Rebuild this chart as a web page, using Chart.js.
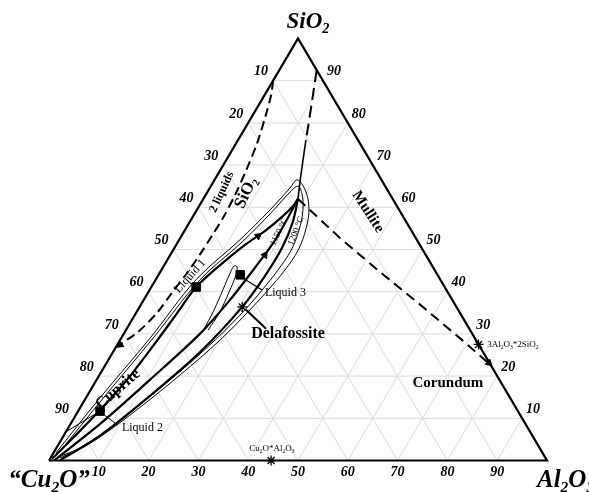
<!DOCTYPE html>
<html>
<head>
<meta charset="utf-8">
<script src="https://cdn.jsdelivr.net/npm/chart.js@4.4.0/dist/chart.umd.min.js"></script>
<style>
  html, body { margin: 0; padding: 0; background: #fff; }
  canvas { display: block; }
</style>
</head>
<body>
<canvas id="ternario" width="589" height="492"></canvas>
<script>
// composições em % massa: [Al2O3, SiO2] (o resto é Cu2O)
const ticks = [10, 20, 30, 40, 50, 60, 70, 80, 90];

// linha tracejada da lacuna de miscibilidade (2 líquidos)
const doisLiquidos = [[0,90],[1.3,86.6],[2.6,81.9],[4.2,75.2],[5.2,68.8],[5.9,62.9],[6.2,57.5],[6.1,53.7],[5.9,48.9],[5.5,44.4],[4.8,39.7],[4.2,35.0],[2.6,30.4],[0,26.9]];
// SiO2 / mulita
const silicaMulitaTrac = [[7.5,92.5],[9.7,86.6],[11.9,80.7],[13.6,76.0]];
const silicaMulita = [[13.6,76.0],[15.4,71.2],[17.2,66.5],[19.0,62.0]];
// mulita / corindon
const mulitaCorindon = [[19.0,62.0],[32.1,52.7],[44.1,44.7],[56.1,36.9],[68.0,29.0],[77.4,22.6]];

// curvas grossas (cuprita / SiO2 / delafossita)
const curva1 = [[0.4,0.4],[2.3,5.8],[4.3,12.0],[6.0,18.6],[7.2,26.2],[8.2,34.2],[9.0,41.1],[11.2,46.3],[13.8,51.1],[16.2,54.4],[18.0,57.9],[18.9,60.5],[19.0,62.0]];
const curva2 = [[1.1,0.1],[5.9,8.6],[10.7,19.1],[15.3,30.0],[17.3,38.0],[18.5,45.6],[19.3,52.3],[19.2,57.9],[19.0,62.0]];
const curva3 = [[2.2,0.1],[7.3,5.8],[12.6,15.3],[17.5,25.7],[20.6,36.4],[21.5,43.7],[21.6,50.4],[20.7,56.5],[19.0,62.0]];

// isotermas (finas)
const iso1200 = [[0.5,1.8],[2.8,14.8],[5.8,29.0],[8.1,42.8],[12.2,52.3],[14.7,59.4],[16.1,64.6],[16.6,66.5],[19.4,64.1],[22.3,59.8],[24.1,55.1],[25.1,49.9],[24.8,45.1],[23.8,40.4],[22.5,35.7],[20.1,28.6],[16.2,20.3],[10.9,10.8],[6.2,4.1],[1.9,0.6]];
const iso1150 = [[1.0,1.5],[3.6,15.3],[6.5,29.5],[8.9,42.8],[12.9,51.8],[15.3,58.9],[16.6,63.6],[17.5,65.0],[19.2,63.2],[21.3,59.4],[22.9,54.6],[23.7,49.9],[23.4,45.1],[22.6,40.4],[21.5,35.7],[19.1,28.6],[14.8,19.1],[9.5,9.6],[4.7,3.0],[1.4,0.8]];
const laco = [[15.6,30.7],[15.3,35.7],[14.7,40.4],[14.2,44.2],[14.1,46.1],[14.8,45.9],[15.5,44.2],[16.2,39.9],[16.7,35.0],[16.5,30.9]];

// pontos
const liquidos = [[9.0,41.1],[4.4,11.7],[16.4,44.0]];        // Liquid 1, 2, 3
const compostos = [[20.6,36.4],[72.5,27.5],[44.6,0]];        // delafossita, mulita, Cu2O*Al2O3
const tieLiq2 = [[0,6.8],[4.4,11.7]];
const guiaLiq2 = [[5.7,10.8],[9.6,8.4]];
const guiaLiq3 = [[17.7,43.0],[22.6,40.4]];
const guiaDelaf = [[28.0,31.2],[21.7,35.7]];
const setas = [[0.6,27.4],[76.8,23.1],[15.4,53.2],[19.0,48.7]];
const setasAngulo = [234, 131, 53, 36];

const tern = ([al, si]) => ({ x: al + si / 2, y: si });

function linha(pts, extra) {
  return Object.assign({
    data: pts.map(tern), showLine: true, pointRadius: 0, borderColor: '#000',
    borderWidth: 1, fill: false, tension: 0, order: 1
  }, extra);
}

const datasets = [];
// triângulo
datasets.push(linha([[0,0],[100,0],[0,100],[0,0]], { borderWidth: 2.2, order: 2 }));
datasets.push(linha(doisLiquidos, { borderWidth: 2, borderDash: [9, 5], tension: 0.3 }));
datasets.push(linha(silicaMulitaTrac, { borderWidth: 2, borderDash: [12, 6] }));
datasets.push(linha(silicaMulita, { borderWidth: 1.6 }));
datasets.push(linha(mulitaCorindon, { borderWidth: 2, borderDash: [10, 6] }));
datasets.push(linha(curva1, { borderWidth: 2.2, tension: 0.3 }));
datasets.push(linha(curva2, { borderWidth: 2.2, tension: 0.3 }));
datasets.push(linha(curva3, { borderWidth: 2.2, tension: 0.3 }));
datasets.push(linha(iso1200, { borderWidth: 1, tension: 0.35 }));
datasets.push(linha(iso1150, { borderWidth: 1, tension: 0.35 }));
datasets.push(linha(laco, { borderWidth: 1, tension: 0.4 }));
datasets.push(linha(tieLiq2, { borderWidth: 1 }));
datasets.push(linha(guiaLiq2, { borderWidth: 1 }));
datasets.push(linha(guiaLiq3, { borderWidth: 1.2 }));
datasets.push(linha(guiaDelaf, { borderWidth: 2 }));
datasets.push({
  data: liquidos.map(tern), showLine: false, pointStyle: 'rect', pointRadius: 6,
  pointBackgroundColor: '#000', pointBorderColor: '#000', order: 0
});
datasets.push({
  data: compostos.map(tern), showLine: false, pointStyle: 'star', pointRadius: 5,
  pointBorderColor: '#000', pointBorderWidth: 1.3, order: 0
});
datasets.push({
  data: setas.map(tern), showLine: false, pointStyle: 'triangle', pointRadius: 4,
  pointRotation: setasAngulo, pointBackgroundColor: '#000', pointBorderColor: '#000', order: 0
});
// grade
ticks.forEach(k => {
  const g = { borderColor: '#dcdcdc', borderWidth: 1, order: 10 };
  datasets.push(linha([[0,k],[100-k,k]], g));
  datasets.push(linha([[k,0],[k,100-k]], g));
  datasets.push(linha([[100-k,0],[0,100-k]], g));
});

// texto com subscrito: "_x" => x subscrito
function escreve(ctx, txt, x, y, size, style, rot, align) {
  const parts = [];
  for (let i = 0; i < txt.length; i++) {
    if (txt[i] === '_') { parts.push({ t: txt[i + 1], sub: true }); i++; }
    else if (parts.length && !parts[parts.length - 1].sub) parts[parts.length - 1].t += txt[i];
    else parts.push({ t: txt[i], sub: false });
  }
  const f = s => style + ' ' + s + 'px "Liberation Serif"';
  let w = 0;
  parts.forEach(p => { ctx.font = f(p.sub ? size * 0.62 : size); p.w = ctx.measureText(p.t).width; w += p.w; });
  ctx.save();
  ctx.translate(x, y);
  ctx.rotate((rot || 0) * Math.PI / 180);
  ctx.textBaseline = 'middle';
  ctx.textAlign = 'left';
  ctx.fillStyle = '#000';
  let cx = align === 'left' ? 0 : -w / 2;
  parts.forEach(p => {
    ctx.font = f(p.sub ? size * 0.62 : size);
    ctx.fillText(p.t, cx, p.sub ? size * 0.3 : 0);
    cx += p.w;
  });
  ctx.restore();
}

const rotulos = [
  { t: 'SiO_2', at: [7.9, 63.4], size: 17, style: 'bold', rot: -65 },
  { t: '2 liquids', at: [2.9, 63.6], size: 12, style: 'bold', rot: -65 },
  { t: 'Mullite', at: [34.6, 58.9], size: 15, style: 'bold', rot: 57 },
  { t: 'Delafossite', at: [33.0, 30.0], size: 16, style: 'bold' },
  { t: 'Corundum', at: [70.9, 18.4], size: 15, style: 'bold' },
  { t: 'Cuprite', at: [5.4, 16.9], size: 16, style: 'bold', rot: -41 },
  { t: 'Liquid 1', at: [6.5, 43.7], size: 12, style: 'normal', rot: -48 },
  { t: 'Liquid 2', at: [10.8, 7.7], size: 12, style: 'normal', align: 'left' },
  { t: 'Liquid 3', at: [23.5, 39.7], size: 12, style: 'normal', align: 'left' },
  { t: '1150 °C', at: [19.1, 54.2], size: 9, style: 'normal', rot: -64 },
  { t: '1200 °C', at: [22.4, 54.4], size: 9, style: 'normal', rot: -68 },
  { t: '3Al_2O_3*2SiO_2', at: [74.3, 27.4], size: 9, style: 'normal', align: 'left' },
  { t: 'Cu_2O*Al_2O_3', at: [43.4, 2.7], size: 9, style: 'normal' }
];

const textos = {
  id: 'textos',
  afterDatasetsDraw(chart) {
    const ctx = chart.ctx;
    const sx = chart.scales.x, sy = chart.scales.y;
    const px = (al, si) => [sx.getPixelForValue(al + si / 2), sy.getPixelForValue(si)];
    const tf = 'italic bold';
    ticks.forEach(k => {
      let p = px(k, 0);
      escreve(ctx, String(k), p[0], p[1] + 12, 14, tf);
      p = px(0, 100 - k);
      escreve(ctx, String(k), p[0] - 12, p[1] - 9, 14, tf);
      p = px(100 - k, k);
      escreve(ctx, String(k), p[0] + 11, p[1] - 9, 14, tf);
    });
    let v = px(0, 100);
    escreve(ctx, 'SiO_2', v[0] + 10, v[1] - 16, 23, tf);
    v = px(0, 0);
    escreve(ctx, '“Cu_2O”', v[0], v[1] + 20, 25, tf);
    v = px(100, 0);
    escreve(ctx, 'Al_2O_3', v[0] - 10, v[1] + 20, 25, tf, 0, 'left');
    rotulos.forEach(r => {
      const p = px(r.at[0], r.at[1]);
      escreve(ctx, r.t, p[0], p[1], r.size, r.style, r.rot, r.align);
    });
  }
};

new Chart(document.getElementById('ternario'), {
  type: 'scatter',
  data: { datasets },
  options: {
    responsive: false,
    animation: false,
    devicePixelRatio: 1,
    layout: { padding: 0, autoPadding: false },
    plugins: { legend: { display: false }, tooltip: { enabled: false }, title: { display: false } },
    scales: {
      x: { type: 'linear', display: false, min: -9.839, max: 108.434 },
      y: { type: 'linear', display: false, min: -7.464, max: 109.123 }
    }
  },
  plugins: [textos]
});
</script>
</body>
</html>
